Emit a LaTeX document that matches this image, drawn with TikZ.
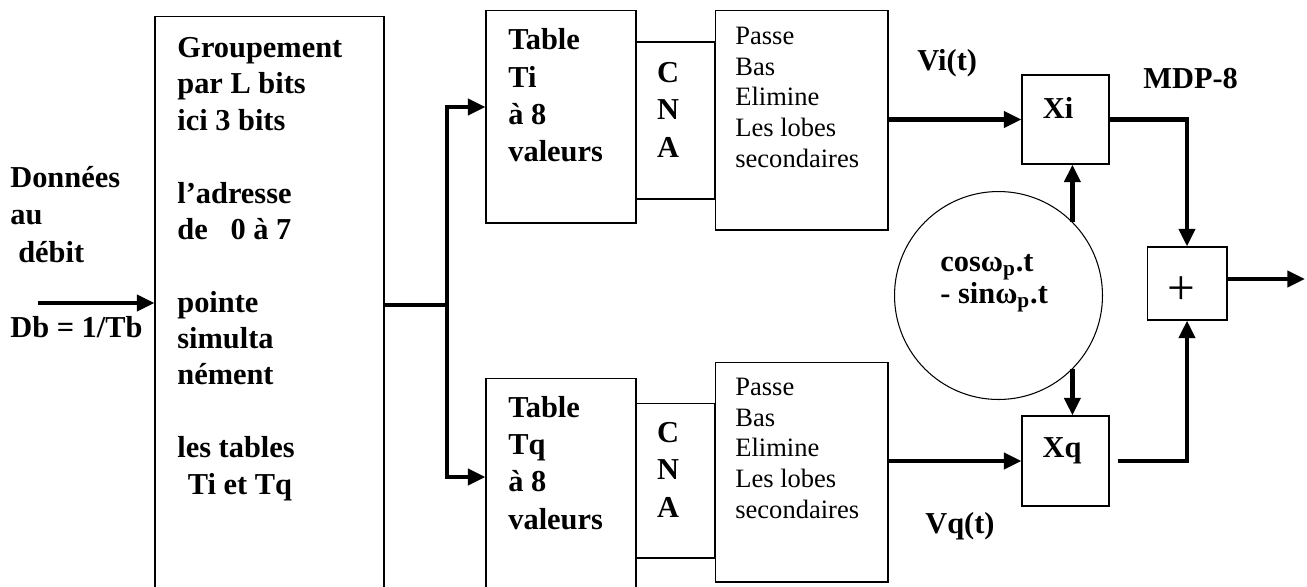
\documentclass[tikz,border=0pt]{standalone}
\usepackage{fontspec}
\setmainfont{Liberation Serif}
\usetikzlibrary{arrows.meta}

\tikzset{
  box/.style={draw, line width=0.6pt, inner sep=0pt},
  wire/.style={line width=2.5pt},
  feed/.style={wire, -{Triangle[length=10pt,width=9pt]}},
  bold/.style={font=\bfseries\fontsize{17.3}{21.2}\selectfont, inner sep=0pt, anchor=base west, align=left},
  thin/.style={font=\fontsize{15.1}{17.4}\selectfont, inner sep=0pt, anchor=base west, align=left}
}

\begin{document}
\begin{tikzpicture}[x=0.02cm, y=-0.02cm]
  \useasboundingbox (0,0) rectangle (1307,586);

  % blocs
  \node[box, minimum width=4.58cm, minimum height=11.67cm] (grp) at (269.5,308.3) {};
  \node[box, minimum width=3cm, minimum height=4.26cm] (ti) at (561,116.5) {};
  \node[box, minimum width=1.58cm, minimum height=3.14cm] (cnai) at (675.5,120.5) {};
  \node[box, minimum width=3.46cm, minimum height=4.4cm] (fi) at (801.5,120) {};
  \node[box, minimum width=3cm, minimum height=4.44cm] (tq) at (561,489) {};
  \node[box, minimum width=1.58cm, minimum height=3.1cm] (cnaq) at (675.5,480.5) {};
  \node[box, minimum width=3.46cm, minimum height=4.4cm] (fq) at (801.5,472) {};
  \node[box, minimum width=1.74cm, minimum height=1.78cm] (xi) at (1065.5,119.5) {};
  \node[box, minimum width=1.74cm, minimum height=1.8cm] (xq) at (1065.5,461) {};
  \node[box, minimum width=1.6cm, minimum height=1.46cm] (add) at (1187,283.5) {};
  \node[box, circle, minimum size=4.16cm] (osc) at (998.5,295.5) {};

  % textes (ancre sur la derniere ligne)
  \node[bold] (dat) at (10,262) {Données\\au\\\hspace*{4.5pt}débit};
  \node[bold] (deb) at (10,337) {Db = 1/Tb};
  \node[bold, font=\bfseries\fontsize{17.3}{20.7}\selectfont] (grptxt) at (177,494)
    {Groupement\\par L bits\\ici 3 bits\\[20.7pt]l’adresse\\de\hspace*{13pt}0 à 7\\[20.7pt]pointe\\simulta\\nément\\[20.7pt]les tables\\\hspace*{6pt}Ti et Tq};
  \node[bold] (titxt) at (508,161.5) {Table\\Ti\\à 8\\valeurs};
  \node[bold] (tqtxt) at (508,529) {Table\\Tq\\à 8\\valeurs};
  \node[bold, anchor=base, align=center] (cnaitxt) at (668,157) {C\\N\\A};
  \node[bold, anchor=base, align=center] (cnaqtxt) at (668,517) {C\\N\\A};
  \node[thin] (fitxt) at (735,167) {Passe\\Bas\\Elimine\\Les lobes\\secondaires};
  \node[thin] (fqtxt) at (735,518) {Passe\\Bas\\Elimine\\Les lobes\\secondaires};
  \node[bold, anchor=base] (xitxt) at (1058,118) {Xi};
  \node[bold, anchor=base] (xqtxt) at (1062,457) {Xq};
  \node[thin, anchor=center, font=\fontsize{28}{28}\selectfont] (addtxt) at (1181.5,290.5) {+};
  \node[bold, font=\bfseries\fontsize{17.3}{17.1}\selectfont] (osctxt) at (940,303)
    {cosω\textsubscript{p}.t\\- sinω\textsubscript{p}.t};
  \node[bold] (vi) at (917,70) {Vi(t)};
  \node[bold] (vq) at (925,533) {Vq(t)};
  \node[bold] (mdp) at (1143,88) {MDP-8};

  % liaisons
  \coordinate (src) at (38,303);
  \coordinate (sp) at (447,305);
  \coordinate (out) at (1305,279);
  \draw[feed] (src) -- (grp.west |- src);
  \draw[wire] (grp.east |- sp) -- (sp);
  \draw[feed] (sp) |- ([yshift=0.19cm]ti.west);
  \draw[feed] (sp) |- ([yshift=0.24cm]tq.west);
  \draw[feed] (fi.east |- xi.west) -- (xi.west);
  \draw[feed] (fq.east |- xq.west) -- (xq.west);
  \draw[feed] (osc.north east) -- (osc.north east |- xi.south);
  \draw[feed] (osc.south east) -- (osc.south east |- xq.north);
  \draw[feed] (xi.east) -| (add.north);
  \draw[feed] ([xshift=0.16cm]xq.east) -| (add.south);
  \draw[feed] (add.east |- out) -- (out);
\end{tikzpicture}
\end{document}
